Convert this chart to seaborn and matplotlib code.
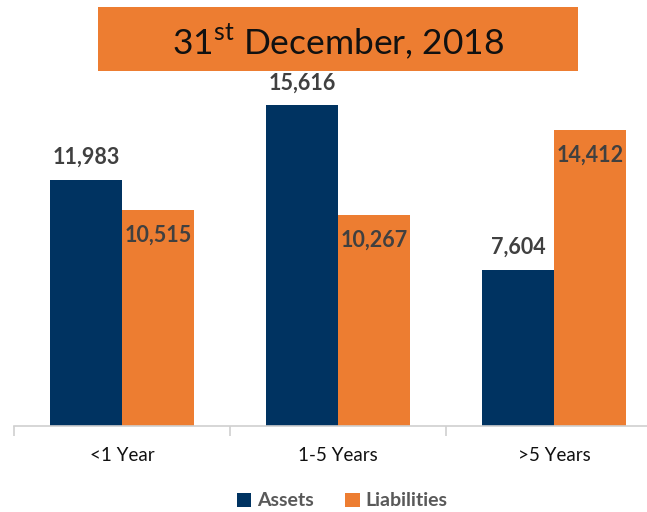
import matplotlib
matplotlib.use("Agg")
import matplotlib.pyplot as plt
import seaborn as sns
import pandas as pd
from matplotlib.patches import Rectangle

categories = ["<1 Year", "1-5 Years", ">5 Years"]
assets = [11983, 15616, 7604]
liabilities = [10515, 10267, 14412]
series = ["Assets", "Liabilities"]
title = "31$^{\\mathrm{st}}$ December, 2018"

NAVY = "#003361"
ORANGE = "#ED7D31"
LABEL = "#404040"

sns.set_theme(style="white")
plt.rcParams["font.family"] = ["Lato", "DejaVu Sans"]
plt.rcParams["mathtext.fontset"] = "custom"
plt.rcParams["mathtext.rm"] = "Lato"

df = pd.DataFrame({
    "category": categories * 2,
    "value": assets + liabilities,
    "series": [series[0]] * 3 + [series[1]] * 3,
})

W, H = 647, 512
fig = plt.figure(figsize=(W / 100, H / 100), dpi=100)
ax = fig.add_axes([14 / W, 1 - 426 / H, (W - 14) / W, 346 / H])

sns.barplot(data=df, x="category", y="value", hue="series", order=categories,
            hue_order=series, palette=[NAVY, ORANGE], width=0.667, gap=0,
            saturation=1, ax=ax, legend=True, edgecolor="none", linewidth=0)

for s in ["top", "right", "left"]:
    ax.spines[s].set_visible(False)
ax.spines["bottom"].set_color("#d0d0d0")
ax.spines["bottom"].set_linewidth(1.2)
ax.set_yticks([])
ax.set_xlabel("")
ax.set_ylabel("")
ax.set_xticks([-0.5, 0.5, 1.5, 2.5], minor=True)
ax.tick_params(axis="x", which="minor", length=7, width=1.2, color="#d0d0d0", direction="out", bottom=True)
ax.tick_params(axis="x", which="major", length=0, pad=15, labelsize=13.5, labelcolor="#111111")

ax.set_xlim(-0.5, (W - 14) / 216 - 0.5)
ax.set_ylim(0, 346 / (321 / 15616))

cont_assets, cont_liab = ax.containers[0], ax.containers[1]
for bar, v in zip(cont_assets, assets):
    ax.annotate(f"{v:,}", (bar.get_x() + bar.get_width() / 2, v), xytext=(0, 22),
                textcoords="offset pixels", ha="center", va="center",
                fontsize=15.5, fontweight="bold", color=LABEL)
for bar, v in zip(cont_liab, liabilities):
    ax.annotate(f"{v:,}", (bar.get_x() + bar.get_width() / 2, v), xytext=(0, -25),
                textcoords="offset pixels", ha="center", va="center",
                fontsize=15.5, fontweight="bold", color=LABEL)

leg = ax.legend(loc="center", bbox_to_anchor=(342 / W, 1 - 501 / H),
                bbox_transform=fig.transFigure, ncol=2, frameon=False,
                handlelength=0.75, handleheight=0.75, handletextpad=0.3,
                columnspacing=1.6, prop={"size": 14, "weight": "bold"})
for t in leg.get_texts():
    t.set_color("#595959")

fig.patches.append(Rectangle((98 / W, 1 - 71 / H), 480 / W, 64 / H,
                             transform=fig.transFigure, facecolor=ORANGE,
                             edgecolor="none", zorder=0))
fig.text(338 / W, 1 - 41 / H, title, ha="center", va="center", fontsize=25.5,
         color="#111111")

fig.savefig("out.png", dpi=100)
